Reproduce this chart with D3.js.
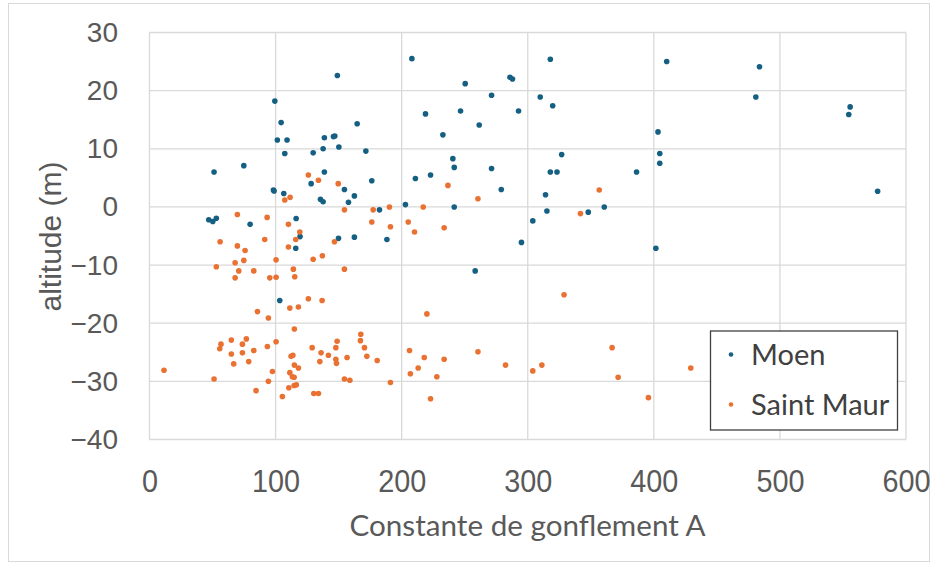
<!DOCTYPE html>
<html>
<head>
<meta charset="utf-8">
<script src="https://cdn.jsdelivr.net/npm/d3@7"></script>
<style>
  body { margin: 0; background: #fff; }
  svg { display: block; }
</style>
</head>
<body>
<script>
// ----- Data -----

// Moen: [constante de gonflement A, altitude (m)]
const moen = [
    [149, 22.6], [99.4, 18.2], [104.4, 14.5], [101.4, 11.5], [109.1, 11.5], [138.7, 11.9],
    [145.9, 12.1], [147, 12.2], [137.7, 10.0], [150.2, 10.3], [129.8, 9.3], [107.3, 9.2],
    [51.2, 6.0], [74.8, 7.1], [138.7, 6.0], [128.2, 4.0], [98.3, 2.9], [98.8, 2.75],
    [106.5, 2.3], [135.6, 1.3], [137.7, 0.9], [47, -2.2], [50.2, -2.5], [53, -1.95],
    [79.8, -3.0], [116.3, -2.0], [119.4, -5.1], [116, -7.1], [149.9, -5.4], [103.3, -16.1],
    [208.1, 25.5], [250.4, 21.2], [285.9, 22.3], [287.9, 22.0], [271.3, 19.2], [218.9, 16.0],
    [246.7, 16.5], [292.7, 16.5], [261.5, 14.1], [164.7, 14.3], [232.7, 12.4], [171.6, 9.6],
    [240.6, 8.3], [241.7, 6.8], [271.3, 6.6], [222.9, 5.5], [210.9, 4.9], [176.3, 4.5],
    [279, 3.0], [154.6, 3.0], [162.5, 1.9], [157.8, 0.8], [203, 0.4], [182.4, -0.5],
    [241.7, 0.0], [162.5, -5.2], [188.3, -5.6], [258.3, -11.0], [295, -6.1], [317.9, 25.4],
    [410.2, 25.0], [483.8, 24.1], [309.9, 18.9], [319.8, 17.4], [480.9, 18.9], [555.7, 17.2],
    [554.6, 15.9], [403.3, 12.9], [326.9, 9.0], [404.7, 9.2], [404.7, 7.5], [317.9, 6.0],
    [323.2, 6.0], [386.3, 6.0], [314.1, 2.1], [315.2, -0.7], [348, -0.9], [360.7, 0.0],
    [304, -2.4], [577.5, 2.7], [401.6, -7.1]
];

// Saint Maur
const saintMaur = [
    [126, 5.5], [134, 4.6], [149.7, 4.0], [107.3, 1.2], [111.5, 1.65], [69.7, -1.3],
    [93.3, -1.8], [110.2, -3.0], [119.2, -4.3], [116, -5.6], [56, -6.0], [91.4, -5.6],
    [69.7, -6.7], [110.2, -6.9], [75.8, -7.5], [146.7, -6.0], [137.1, -8.4], [129.8, -9.0],
    [100.4, -9.1], [67.9, -9.6], [74.8, -9.2], [53, -10.3], [70.8, -11.0], [82.7, -11.0],
    [114.1, -10.7], [67.9, -12.2], [95.4, -12.2], [100.4, -12.1], [115.2, -12.0], [111.3, -17.4],
    [118.1, -17.2], [126, -15.8], [136.9, -16.1], [85.6, -18.0], [94.3, -19.1], [114.9, -21.0],
    [56.7, -23.6], [55.7, -24.4], [64.9, -22.9], [73.7, -23.6], [76.8, -22.7], [64.9, -25.3],
    [73.7, -25.1], [82.7, -24.7], [66.8, -27.0], [78.7, -26.6], [93.5, -24.0], [100.4, -23.2],
    [129, -24.2], [136.1, -25.1], [141.9, -25.5], [147.8, -24.2], [148.8, -23.1], [135.1, -26.6],
    [147.8, -26.2], [148.3, -26.9], [112.3, -25.7], [113.7, -25.5], [114.9, -27.2], [118.1, -27.7],
    [111.3, -28.5], [113.3, -29.2], [114.7, -29.3], [97.5, -28.3], [11.5, -28.1], [51.2, -29.6],
    [94.3, -30.0], [84.5, -31.6], [110.5, -31.1], [114.7, -30.7], [116.5, -30.6], [105.4, -32.6],
    [130.3, -32.1], [134, -32.1], [236.7, 3.7], [260.5, 1.4], [154.6, -0.5], [177.4, -0.5],
    [190.3, 0.0], [217.1, 0.0], [176.3, -2.6], [191.1, -3.4], [205.2, -2.6], [233.7, -3.6],
    [210.2, -4.3], [154.6, -10.7], [220, -18.4], [167.6, -21.9], [167.3, -23.0], [170.5, -24.2],
    [172.4, -25.7], [156.7, -25.9], [180.6, -26.4], [206.2, -24.7], [217.9, -25.9], [233.7, -26.2],
    [260.5, -24.9], [282.4, -27.2], [206.9, -28.7], [213.1, -27.7], [227.9, -29.2], [154.6, -29.6],
    [158.9, -29.8], [191.1, -30.2], [222.9, -33.0], [356.7, 2.9], [341.8, -1.15], [328.8, -15.1],
    [366.9, -24.2], [304, -28.2], [311.2, -27.2], [371.7, -29.3], [429.3, -27.7], [395.7, -32.8]
];

const seriesNames = ["Moen", "Saint Maur"];
const seriesColors = ["#156082", "#e97132"];
const xTicks = [0, 100, 200, 300, 400, 500, 600];
const yTicks = [-40, -30, -20, -10, 0, 10, 20, 30];

// ----- Layout -----
const W = 938, H = 565;
const plot = { left: 149.5, right: 906, top: 32.5, bottom: 439.5 };
const gridColor = "#d9d9d9";
const labelColor = "#595959";

const svg = d3.select("body").append("svg")
    .attr("width", W)
    .attr("height", H);

// chart area border
svg.append("rect")
    .attr("x", 8.5).attr("y", 3.5)
    .attr("width", W - 17).attr("height", H - 7)
    .attr("fill", "#fff")
    .attr("stroke", gridColor)
    .attr("stroke-width", 1);

// scales
const x = d3.scaleLinear().domain([0, 600]).range([plot.left, plot.right]);
const y = d3.scaleLinear().domain([-40, 30]).range([plot.bottom, plot.top]);

// gridlines
const grid = svg.append("g").attr("class", "grid")
    .attr("stroke", gridColor)
    .attr("stroke-width", 1.3);
grid.selectAll("line.h")
    .data(yTicks)
    .enter().append("line")
        .attr("class", "h")
        .attr("x1", plot.left).attr("x2", plot.right)
        .attr("y1", d => y(d)).attr("y2", d => y(d));
grid.selectAll("line.v")
    .data(xTicks)
    .enter().append("line")
        .attr("class", "v")
        .attr("y1", plot.top).attr("y2", plot.bottom)
        .attr("x1", d => x(d)).attr("x2", d => x(d));

// axes
const leftAxis = d3.axisLeft(y).tickValues(yTicks).tickSize(0).tickPadding(31.5);
const yAxisG = svg.append("g")
    .attr("transform", `translate(${plot.left}, 0)`)
    .call(leftAxis);
yAxisG.select(".domain").remove();
yAxisG.selectAll("text")
    .attr("fill", labelColor)
    .style("font-family", "'Liberation Sans', Arial, sans-serif")
    .style("font-size", "28px");

const bottomAxis = d3.axisBottom(x).tickValues(xTicks).tickSize(0);
const xAxisG = svg.append("g")
    .attr("transform", `translate(0, ${plot.bottom})`)
    .call(bottomAxis);
xAxisG.select(".domain").remove();
xAxisG.selectAll("text")
    .attr("y", 52.5)
    .attr("dy", 0)
    .attr("transform", "scale(0.9, 1)")
    .attr("fill", labelColor)
    .style("font-family", "'Liberation Sans', Arial, sans-serif")
    .style("font-size", "32px");

// axis titles
svg.append("text")
    .text("Constante de gonflement A")
    .attr("x", 527.5)
    .attr("y", 535.5)
    .attr("text-anchor", "middle")
    .attr("textLength", 356)
    .attr("lengthAdjust", "spacingAndGlyphs")
    .attr("fill", labelColor)
    .style("font-family", "Lato, 'Noto Sans', sans-serif")
    .style("font-size", "29px");

svg.append("text")
    .text("altitude (m)")
    .attr("transform", "translate(61, 236.5) rotate(-90)")
    .attr("text-anchor", "middle")
    .attr("fill", labelColor)
    .style("font-family", "'Liberation Sans', Arial, sans-serif")
    .style("font-size", "30px");

// points
const allSeries = [moen, saintMaur];
allSeries.forEach((data, i) => {
    svg.append("g")
        .attr("class", "series-" + i)
        .selectAll("circle")
        .data(data)
        .enter()
        .append("circle")
            .attr("cx", d => x(d[0]))
            .attr("cy", d => y(d[1]))
            .attr("r", 2.8)
            .attr("fill", seriesColors[i]);
});

// legend
const legend = svg.append("g").attr("class", "legend")
    .attr("transform", "translate(710.5, 331)");
legend.append("rect")
    .attr("width", 187)
    .attr("height", 99)
    .attr("fill", "#fff")
    .attr("stroke", "#404040")
    .attr("stroke-width", 1.3);
const items = legend.selectAll("g.item")
    .data(seriesNames)
    .enter().append("g")
        .attr("class", "item")
        .attr("transform", (d, i) => `translate(0, ${23.5 + i * 50})`);
items.append("circle")
    .attr("cx", 20.5)
    .attr("cy", 0)
    .attr("r", 2.3)
    .attr("fill", (d, i) => seriesColors[i]);
items.append("text")
    .text(d => d)
    .attr("x", 40.5)
    .attr("y", 10.5)
    .attr("fill", "#404040")
    .style("font-family", "Lato, 'Noto Sans', sans-serif")
    .style("font-size", "29px");
</script>
</body>
</html>
